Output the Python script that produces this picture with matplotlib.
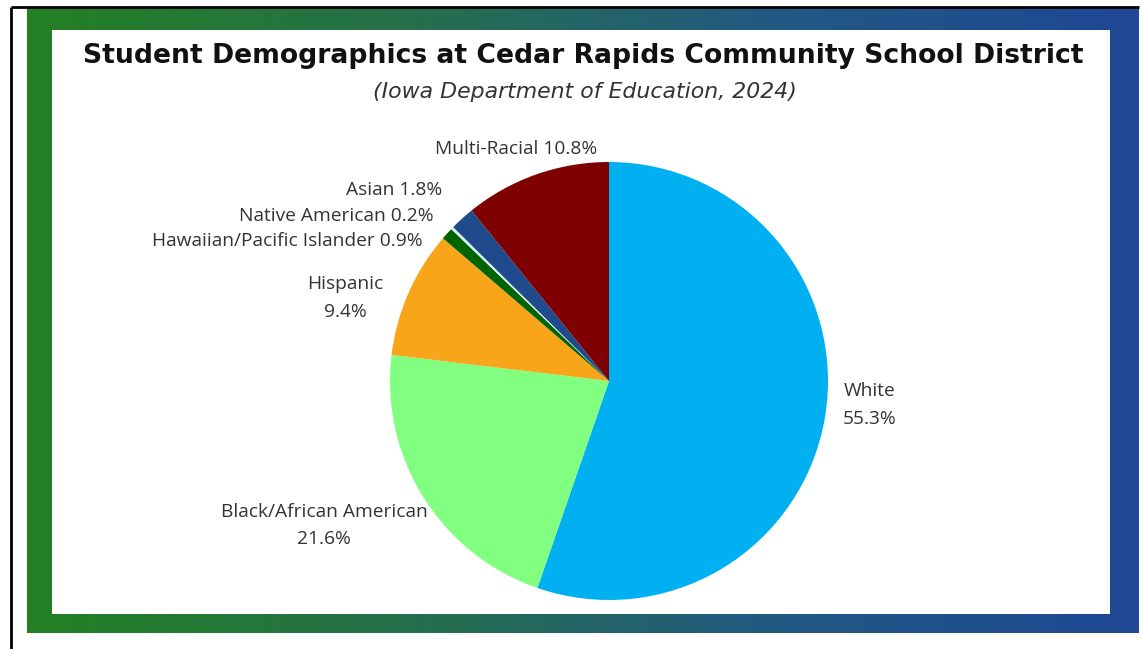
import numpy as np
import matplotlib
matplotlib.use("Agg")
import matplotlib.pyplot as plt
from matplotlib.patches import Rectangle
from matplotlib.colors import LinearSegmentedColormap

categories = ["White", "Black/African American", "Hispanic",
              "Hawaiian/Pacific Islander", "Native American", "Asian", "Multi-Racial"]
values = [55.3, 21.6, 9.4, 0.9, 0.2, 1.8, 10.8]
colors = ["#00B0F0", "#80FF80", "#F9A51A", "#006400", "#DDF3FB", "#1F4A8C", "#7F0000"]
# label layout: (x, y in pie-radius units, ha, two-line?)
label_layout = [
    (1.19, -0.11, "center", True),
    (-1.30, -0.66, "center", True),
    (-1.205, 0.38, "center", True),
    (-0.85, 0.64, "right", False),
    (-0.80, 0.755, "right", False),
    (-0.76, 0.87, "right", False),
    (-0.425, 1.06, "center", False),
]

W, H = 1142, 649
fig = plt.figure(figsize=(W / 100, H / 100), dpi=100)
fig.patch.set_facecolor("white")

# background: frame lines, gradient border, white panel
bg = fig.add_axes([0, 0, 1, 1])
bg.axis("off")
grad = np.linspace(0, 1, 256)[None, :]
cmap = LinearSegmentedColormap.from_list("g", ["#238023", "#26704A", "#215A82", "#1F4795"])
bg.imshow(grad, cmap=cmap, extent=[27, 1139, 633, 8], aspect="auto", zorder=1)
bg.add_patch(Rectangle((52, 30), 1058, 584, facecolor="white", edgecolor="none", zorder=2))
bg.plot([11, 11], [7, H], color="black", lw=2, zorder=3, solid_capstyle="butt")
bg.plot([11, 1139], [7, 7], color="black", lw=2, zorder=3, solid_capstyle="butt")
bg.set_xlim(0, W)
bg.set_ylim(H, 0)

fig.text(583 / W, 1 - 56 / H, "Student Demographics at Cedar Rapids Community School District",
         ha="center", va="center", fontsize=19.2, fontweight="bold", family="DejaVu Sans",
         color="#111111")
fig.text(585 / W, 1 - 92 / H, "(Iowa Department of Education, 2024)",
         ha="center", va="center", fontsize=15.8, style="italic", family="DejaVu Sans",
         color="#333333")

cx, cy, R = 609, 381, 219
ax = fig.add_axes([0, 0, 1, 1])
ax.patch.set_alpha(0)

ax.pie(values, colors=colors, startangle=90, counterclock=False, radius=1,
       wedgeprops=dict(linewidth=0))
ax.set_aspect("auto")
ax.set_xlim(-cx / R, (W - cx) / R)
ax.set_ylim(-(H - cy) / R, cy / R)
ax.axis("off")

for name, v, (x, y, ha, two) in zip(categories, values, label_layout):
    txt = f"{name}\n{v:.1f}%" if two else f"{name} {v:.1f}%"
    ax.text(x, y, txt, ha=ha, va="center", fontsize=13.8, family="Open Sans",
            color="#333333", linespacing=1.7, multialignment="center")

fig.savefig("out.png", dpi=100)
